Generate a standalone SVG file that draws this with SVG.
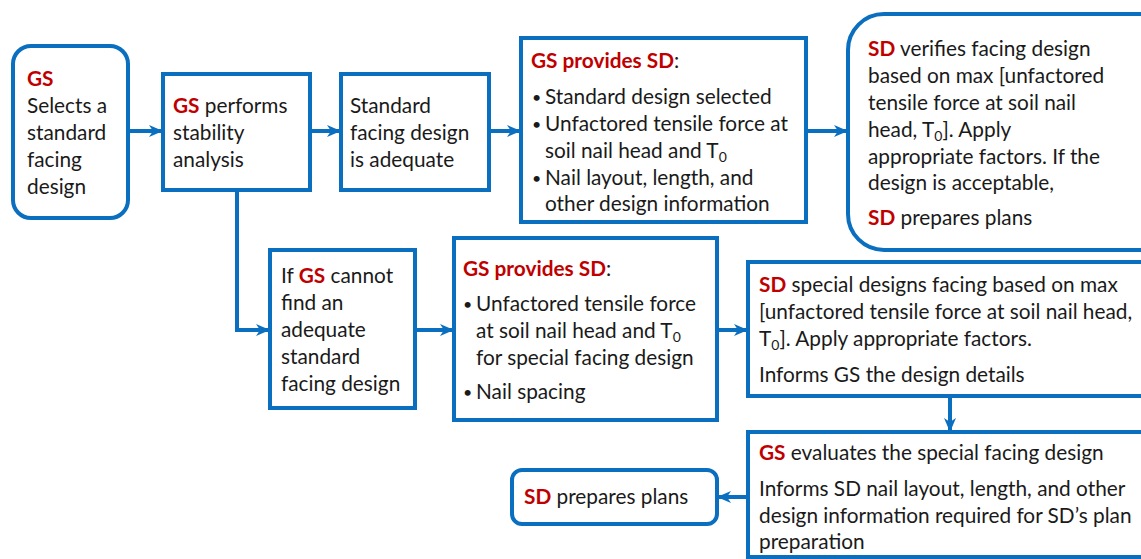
<svg xmlns="http://www.w3.org/2000/svg" width="1141" height="559" viewBox="0 0 1141 559">
<style>
.box{fill:#fff;stroke:#0b6fc0;stroke-width:4}
.con{fill:none;stroke:#0b6fc0;stroke-width:4}
text{font-family:Lato,"Open Sans","Liberation Sans",sans-serif;font-size:20.8px;fill:#1a1a1a}
.r{fill:#c00000;font-weight:bold}
.s{font-size:14px}
.b{font-size:16px}
</style>
<defs>
<marker id="ah" markerUnits="userSpaceOnUse" markerWidth="14" markerHeight="14" viewBox="0 0 14 14" refX="13" refY="7" orient="auto">
<path d="M0,1 L14,7 L0,13 L4,7 z" fill="#0b6fc0"/>
</marker>
</defs>
<rect width="1141" height="559" fill="#fff"/>
<g id="connectors">
<line class="con" x1="128" y1="131" x2="162" y2="131" marker-end="url(#ah)"/>
<line class="con" x1="310" y1="131" x2="340" y2="131" marker-end="url(#ah)"/>
<line class="con" x1="489" y1="131" x2="520" y2="131" marker-end="url(#ah)"/>
<line class="con" x1="806" y1="131" x2="847" y2="131" marker-end="url(#ah)"/>
<polyline class="con" points="237,190 237,330 269,330" marker-end="url(#ah)"/>
<line class="con" x1="415" y1="330" x2="453" y2="330" marker-end="url(#ah)"/>
<line class="con" x1="717" y1="330" x2="747" y2="330" marker-end="url(#ah)"/>
<line class="con" x1="950" y1="396" x2="950" y2="431" marker-end="url(#ah)"/>
<line class="con" x1="748" y1="497" x2="718" y2="497" marker-end="url(#ah)"/>
</g>
<g id="n1">
<rect class="box" x="13" y="46" width="115" height="172" rx="18"/>
<text x="27" y="86"><tspan class="r">GS</tspan></text>
<text x="27" y="113">Selects a</text>
<text x="27" y="140">standard</text>
<text x="27" y="167">facing</text>
<text x="27" y="194">design</text>
</g>
<g id="n2">
<rect class="box" x="163" y="74" width="147" height="116"/>
<text x="173" y="113"><tspan class="r">GS</tspan> performs</text>
<text x="173" y="140">stability</text>
<text x="173" y="167">analysis</text>
</g>
<g id="n3">
<rect class="box" x="341" y="74" width="148" height="116"/>
<text x="350" y="113">Standard</text>
<text x="350" y="140">facing design</text>
<text x="350" y="167">is adequate</text>
</g>
<g id="n4">
<rect class="box" x="521" y="38" width="285" height="184"/>
<text x="531" y="68"><tspan class="r">GS provides SD</tspan>:</text>
<text class="b" x="532" y="103">•</text><text x="545" y="104">Standard design selected</text>
<text class="b" x="532" y="130">•</text><text x="545" y="131">Unfactored tensile force at</text>
<text x="545" y="158">soil nail head and T<tspan class="s" dy="4">0</tspan></text>
<text class="b" x="532" y="184">•</text><text x="545" y="185">Nail layout, length, and</text>
<text x="545" y="211">other design information</text>
</g>
<g id="n5">
<rect class="box" x="848" y="14" width="330" height="236" rx="36"/>
<text x="868" y="56"><tspan class="r">SD</tspan> verifies facing design</text>
<text x="868" y="83">based on max [unfactored</text>
<text x="868" y="110">tensile force at soil nail</text>
<text x="868" y="137">head, T<tspan class="s" dy="4">0</tspan><tspan dy="-4">]. Apply</tspan></text>
<text x="868" y="164">appropriate factors. If the</text>
<text x="868" y="190">design is acceptable,</text>
<text x="868" y="225"><tspan class="r">SD</tspan> prepares plans</text>
</g>
<g id="n6">
<rect class="box" x="270" y="250" width="145" height="158"/>
<text x="281" y="283">If <tspan class="r">GS</tspan> cannot</text>
<text x="281" y="310">find an</text>
<text x="281" y="337">adequate</text>
<text x="281" y="364">standard</text>
<text x="281" y="391">facing design</text>
</g>
<g id="n7">
<rect class="box" x="454" y="238" width="263" height="182"/>
<text x="463" y="276"><tspan class="r">GS provides SD</tspan>:</text>
<text class="b" x="463" y="310">•</text><text x="476" y="311">Unfactored tensile force</text>
<text x="476" y="338">at soil nail head and T<tspan class="s" dy="4">0</tspan></text>
<text x="476" y="365">for special facing design</text>
<text class="b" x="463" y="398">•</text><text x="476" y="399">Nail spacing</text>
</g>
<g id="n8">
<rect class="box" x="748" y="262" width="400" height="134"/>
<text x="759" y="292"><tspan class="r">SD</tspan> special designs facing based on max</text>
<text x="759" y="319">[unfactored tensile force at soil nail head,</text>
<text x="759" y="346">T<tspan class="s" dy="4">0</tspan><tspan dy="-4">]. Apply appropriate factors.</tspan></text>
<text x="759" y="382">Informs GS the design details</text>
</g>
<g id="n9">
<rect class="box" x="748" y="432" width="400" height="125"/>
<text x="759" y="460"><tspan class="r">GS</tspan> evaluates the special facing design</text>
<text x="759" y="496">Informs SD nail layout, length, and other</text>
<text x="759" y="523">design information required for SD’s plan</text>
<text x="759" y="549">preparation</text>
</g>
<g id="n10">
<rect class="box" x="512" y="470" width="205" height="54" rx="10"/>
<text x="524" y="504"><tspan class="r">SD</tspan> prepares plans</text>
</g>
</svg>
